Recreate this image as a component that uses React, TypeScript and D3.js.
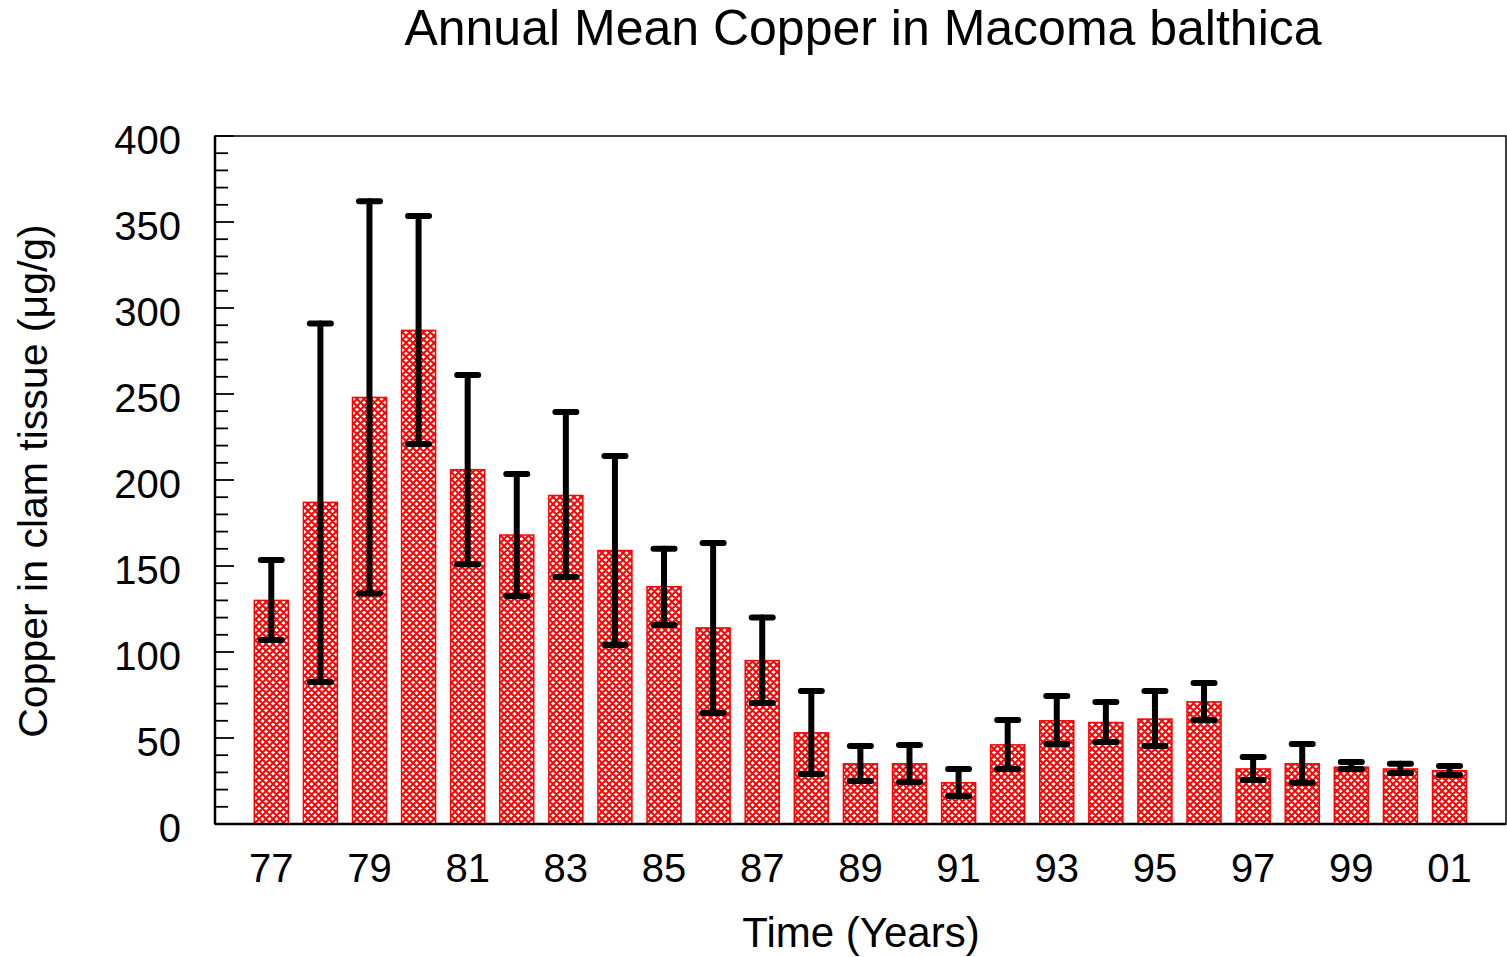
import React from "react";
import * as d3 from "d3";

const years = ["77","78","79","80","81","82","83","84","85","86","87","88","89","90","91","92","93","94","95","96","97","98","99","00","01"];
const means = [130,187,248,287,206,168,191,159,138,114,95,53,35,35,24,46,60,59,61,71,32,35,33,32,31];
const upper = [153.5,291,362,353.5,261,203.5,239.5,214,160,163.4,120,77.3,45.3,46,32,60.5,74.4,71,77.3,82,39,46.5,36,35,33.7];
const lower = [107,82.5,134,221,151,132.5,143.6,104,115.7,64.5,70.3,29,25,24.4,16.3,32,46.5,47.7,45.3,60.5,25.6,24,32,29.7,28.5];
const yTicks = [0,50,100,150,200,250,300,350,400];
const xLabelYears = ["77","79","81","83","85","87","89","91","93","95","97","99","01"];

export default function App() {
  const W = 1507, H = 957;
  const left = 215, right = 1506, top = 136, bottom = 824;
  const x = d3.scaleLinear().domain([0, years.length - 1]).range([271.3, 1449.5]);
  const y = d3.scaleLinear().domain([0, 400]).range([bottom, top]);
  const bw = 34;
  const capW = 21;
  const minor = d3.range(0, 401, 10);
  const font = "'Liberation Sans', Arial, sans-serif";
  return (
    <svg width={W} height={H} style={{ position: "absolute", left: 0, top: 0, background: "#fff" }} fontFamily={font}>
      <defs>
        <pattern id="hatch" patternUnits="userSpaceOnUse" width={7} height={7}>
          <rect width={7} height={7} fill="#fff" />
          <path d="M-1,1 L1,-1 M0,7 L7,0 M6,8 L8,6 M-1,6 L1,8 M0,0 L7,7 M6,-1 L8,1" stroke="#ff0000" strokeWidth={2} />
        </pattern>
      </defs>
      <text x={863} y={45} textAnchor="middle" fontSize={50} fill="#000">Annual Mean Copper in Macoma balthica</text>
      {means.map((m, i) => (
        <rect key={"b" + i} x={x(i) - bw / 2} y={y(m)} width={bw} height={y(0) - y(m)} fill="url(#hatch)" stroke="#ff0000" strokeWidth={1.5} />
      ))}
      {means.map((m, i) => (
        <g key={"e" + i} stroke="#000" strokeWidth={6} strokeLinecap="round">
          <line x1={x(i)} x2={x(i)} y1={y(upper[i])} y2={y(lower[i])} />
          <line x1={x(i) - capW / 2} x2={x(i) + capW / 2} y1={y(upper[i])} y2={y(upper[i])} />
          <line x1={x(i) - capW / 2} x2={x(i) + capW / 2} y1={y(lower[i])} y2={y(lower[i])} />
        </g>
      ))}
      <rect x={left} y={top} width={right - left} height={bottom - top} fill="none" stroke="#000" strokeWidth={1.5} />
      <line x1={left} x2={right} y1={bottom} y2={bottom} stroke="#000" strokeWidth={2.5} />
      <line x1={left} x2={left} y1={top} y2={bottom} stroke="#000" strokeWidth={2.5} />
      {minor.map((v) => (
        <line key={"t" + v} x1={left} x2={left + (v % 50 === 0 ? 19 : 13)} y1={y(v)} y2={y(v)} stroke="#000" strokeWidth={1.8} />
      ))}
      {yTicks.map((v) => (
        <text key={"yl" + v} x={181} y={y(v) + 18} textAnchor="end" fontSize={40} fill="#000">{v}</text>
      ))}
      {xLabelYears.map((lab) => {
        const i = years.indexOf(lab);
        return <text key={"xl" + lab} x={x(i)} y={882} textAnchor="middle" fontSize={40} fill="#000">{lab}</text>;
      })}
      <text x={861} y={947} textAnchor="middle" fontSize={42} fill="#000">Time (Years)</text>
      <text transform="translate(47,481) rotate(-90)" textAnchor="middle" fontSize={41} fill="#000">Copper in clam tissue (μg/g)</text>
    </svg>
  );
}
